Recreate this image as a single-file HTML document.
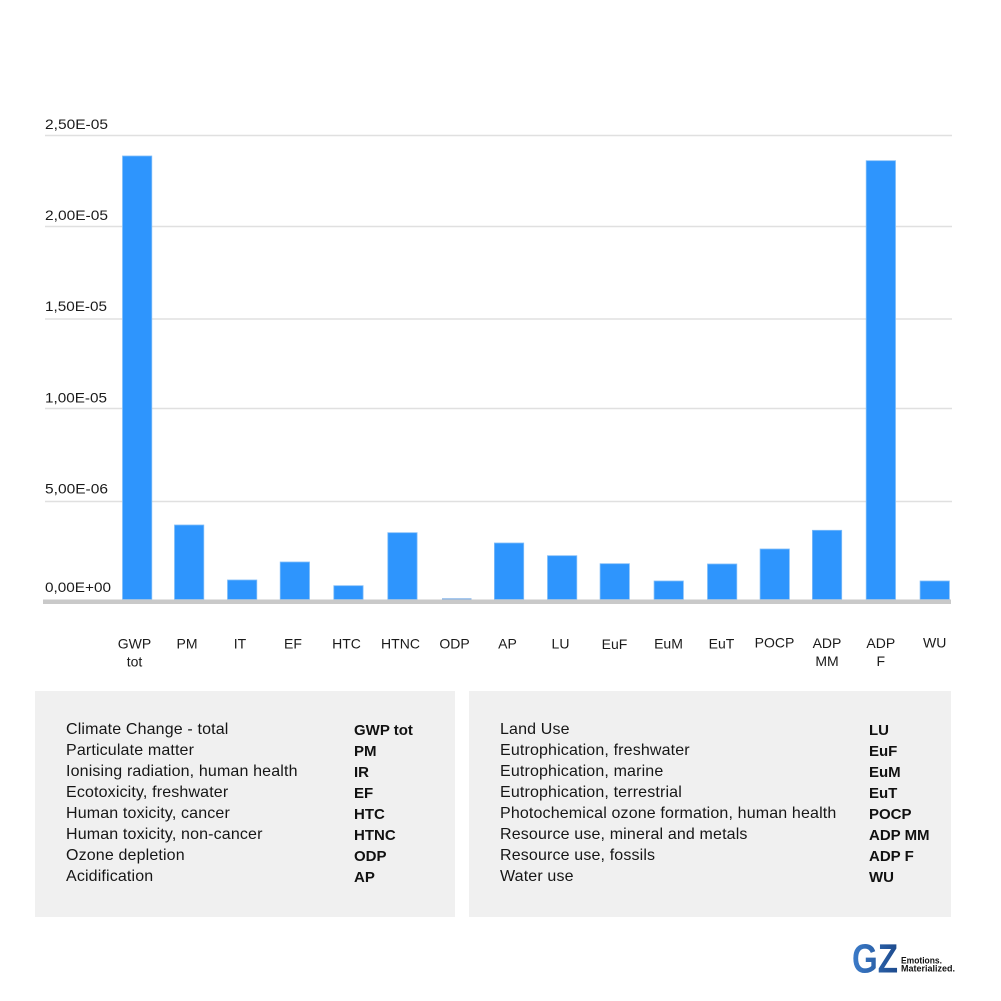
<!DOCTYPE html>
<html>
<head>
<meta charset="utf-8">
<style>
html,body{margin:0;padding:0;background:#fff;}
body{width:1001px;height:1001px;overflow:hidden;position:relative;font-family:"Liberation Sans",Arial,sans-serif;}
svg{position:absolute;left:0;top:0;}
.box{position:absolute;background:#f0f0f0;}
.row{position:absolute;font-size:16px;color:#161616;white-space:nowrap;letter-spacing:0.15px;line-height:21px;}
.ab{position:absolute;font-size:15px;font-weight:bold;color:#111;white-space:nowrap;line-height:21px;}
</style>
</head>
<body>
<svg width="1001" height="1001" viewBox="0 0 1001 1001" xmlns="http://www.w3.org/2000/svg">
  <g stroke="#e0e0e0" stroke-width="1.5">
    <line x1="45" y1="135.5" x2="952" y2="135.5"/>
    <line x1="45" y1="226.5" x2="952" y2="226.5"/>
    <line x1="45" y1="319" x2="952" y2="319"/>
    <line x1="45" y1="408.5" x2="952" y2="408.5"/>
    <line x1="45" y1="501.5" x2="952" y2="501.5"/>
  </g>
  <g font-family="Liberation Sans, Arial, sans-serif" font-size="14" fill="#1a1a1a">
    <text x="45" y="129" textLength="63" lengthAdjust="spacingAndGlyphs">2,50E-05</text>
    <text x="45" y="220" textLength="63" lengthAdjust="spacingAndGlyphs">2,00E-05</text>
    <text x="45" y="311" textLength="62" lengthAdjust="spacingAndGlyphs">1,50E-05</text>
    <text x="45" y="402.5" textLength="62" lengthAdjust="spacingAndGlyphs">1,00E-05</text>
    <text x="45" y="493.5" textLength="63" lengthAdjust="spacingAndGlyphs">5,00E-06</text>
    <text x="45" y="592" textLength="66" lengthAdjust="spacingAndGlyphs">0,00E+00</text>
  </g>
  <g fill="#2e95fd" stroke="#80bdf8" stroke-width="0.8">
    <rect x="122.5" y="156" width="29.3" height="443.5"/>
    <rect x="174.5" y="525" width="29.3" height="74.5"/>
    <rect x="227.5" y="580" width="29.3" height="19.5"/>
    <rect x="280.2" y="562" width="29.3" height="37.5"/>
    <rect x="333.8" y="585.7" width="29.3" height="13.8"/>
    <rect x="387.8" y="532.7" width="29.3" height="66.8"/>
    <rect x="494.4" y="543" width="29.3" height="56.5"/>
    <rect x="547.5" y="555.7" width="29.3" height="43.8"/>
    <rect x="600.1" y="563.7" width="29.3" height="35.8"/>
    <rect x="654.1" y="581" width="29.3" height="18.5"/>
    <rect x="707.5" y="564" width="29.3" height="35.5"/>
    <rect x="760.1" y="549" width="29.3" height="50.5"/>
    <rect x="812.4" y="530.3" width="29.3" height="69.2"/>
    <rect x="866.2" y="160.7" width="29.3" height="438.8"/>
    <rect x="920.1" y="581" width="29.3" height="18.5"/>
  </g>
  <rect x="442" y="598.3" width="29.5" height="1.2" fill="#7fb0e6"/>
  <rect x="43" y="599.5" width="908" height="4.5" fill="#c9c9c9"/>
  <g font-family="Liberation Sans, Arial, sans-serif" font-size="14" fill="#1a1a1a" text-anchor="middle">
    <text x="134.5" y="648.5">GWP</text>
    <text x="134.5" y="666.5">tot</text>
    <text x="187" y="648.5">PM</text>
    <text x="240" y="648.5">IT</text>
    <text x="293" y="648.5">EF</text>
    <text x="346.5" y="648.5">HTC</text>
    <text x="400.5" y="648.5">HTNC</text>
    <text x="454.5" y="648.5">ODP</text>
    <text x="507.5" y="648.5">AP</text>
    <text x="560.5" y="648.5">LU</text>
    <text x="614.5" y="649">EuF</text>
    <text x="668.5" y="648.5">EuM</text>
    <text x="721.5" y="648.5">EuT</text>
    <text x="774.5" y="647.5">POCP</text>
    <text x="827" y="648">ADP</text>
    <text x="827" y="666">MM</text>
    <text x="880.8" y="648">ADP</text>
    <text x="880.8" y="666">F</text>
    <text x="934.7" y="647.5">WU</text>
  </g>
  <defs>
    <linearGradient id="gz" x1="0" x2="1" y1="0" y2="0">
      <stop offset="0" stop-color="#3c7cca"/>
      <stop offset="1" stop-color="#1d4a8c"/>
    </linearGradient>
  </defs>
  <text x="852" y="972.5" font-family="Liberation Sans, Arial, sans-serif" font-weight="bold" font-size="41" fill="url(#gz)" textLength="46" lengthAdjust="spacingAndGlyphs">GZ</text>
  <text x="901" y="963.5" font-family="Liberation Sans, Arial, sans-serif" font-weight="bold" font-size="9" fill="#111" textLength="41" lengthAdjust="spacingAndGlyphs">Emotions.</text>
  <text x="901" y="971.5" font-family="Liberation Sans, Arial, sans-serif" font-weight="bold" font-size="9" fill="#111" textLength="54" lengthAdjust="spacingAndGlyphs">Materialized.</text>
</svg>

<div class="box" style="left:35px;top:691px;width:420px;height:226px;"></div>
<div class="box" style="left:469px;top:691px;width:482px;height:226px;"></div>

<div class="row" style="left:66px;top:719px;">Climate Change - total</div>
<div class="row" style="left:66px;top:740px;">Particulate matter</div>
<div class="row" style="left:66px;top:761px;">Ionising radiation, human health</div>
<div class="row" style="left:66px;top:782px;">Ecotoxicity, freshwater</div>
<div class="row" style="left:66px;top:803px;">Human toxicity, cancer</div>
<div class="row" style="left:66px;top:824px;">Human toxicity, non-cancer</div>
<div class="row" style="left:66px;top:845px;">Ozone depletion</div>
<div class="row" style="left:66px;top:866px;">Acidification</div>

<div class="ab" style="left:354px;top:720px;">GWP tot</div>
<div class="ab" style="left:354px;top:741px;">PM</div>
<div class="ab" style="left:354px;top:762px;">IR</div>
<div class="ab" style="left:354px;top:783px;">EF</div>
<div class="ab" style="left:354px;top:804px;">HTC</div>
<div class="ab" style="left:354px;top:825px;">HTNC</div>
<div class="ab" style="left:354px;top:846px;">ODP</div>
<div class="ab" style="left:354px;top:867px;">AP</div>

<div class="row" style="left:500px;top:719px;">Land Use</div>
<div class="row" style="left:500px;top:740px;">Eutrophication, freshwater</div>
<div class="row" style="left:500px;top:761px;">Eutrophication, marine</div>
<div class="row" style="left:500px;top:782px;">Eutrophication, terrestrial</div>
<div class="row" style="left:500px;top:803px;">Photochemical ozone formation, human health</div>
<div class="row" style="left:500px;top:824px;">Resource use, mineral and metals</div>
<div class="row" style="left:500px;top:845px;">Resource use, fossils</div>
<div class="row" style="left:500px;top:866px;">Water use</div>

<div class="ab" style="left:869px;top:720px;">LU</div>
<div class="ab" style="left:869px;top:741px;">EuF</div>
<div class="ab" style="left:869px;top:762px;">EuM</div>
<div class="ab" style="left:869px;top:783px;">EuT</div>
<div class="ab" style="left:869px;top:804px;">POCP</div>
<div class="ab" style="left:869px;top:825px;">ADP MM</div>
<div class="ab" style="left:869px;top:846px;">ADP F</div>
<div class="ab" style="left:869px;top:867px;">WU</div>
</body>
</html>
